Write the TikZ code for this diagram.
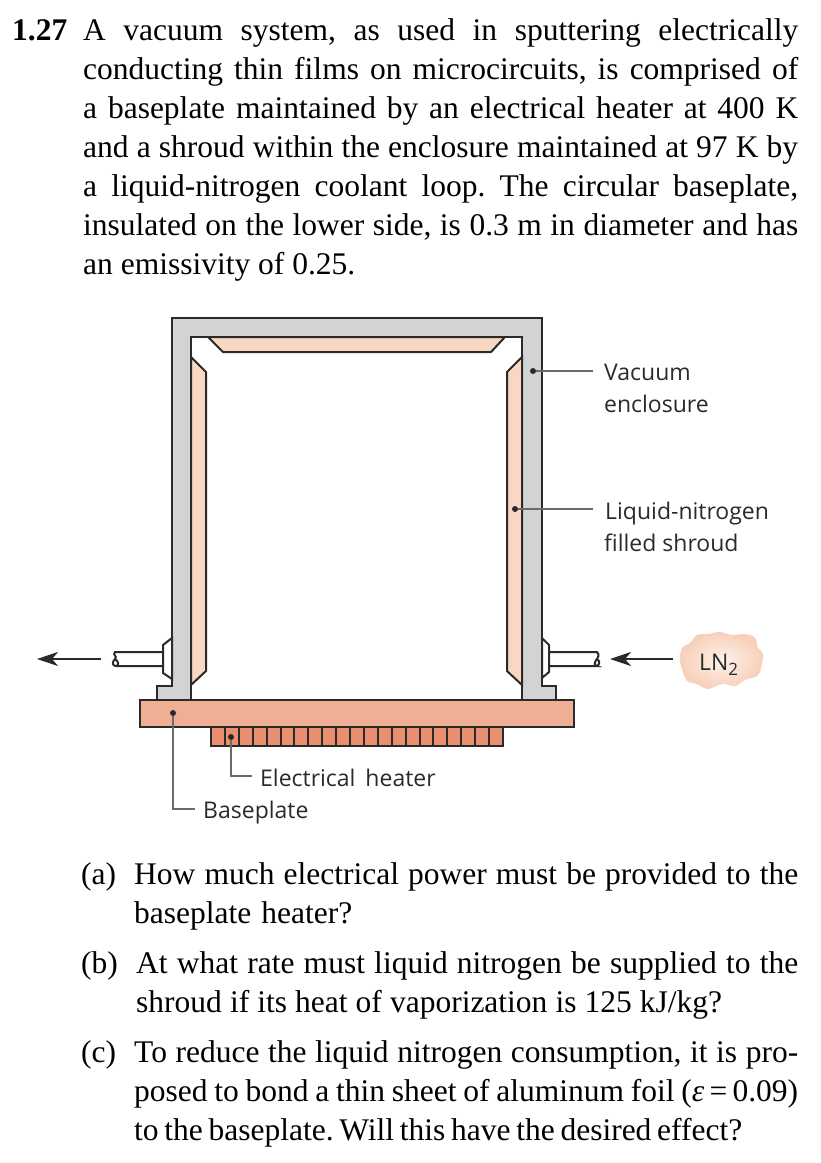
\documentclass[tikz,border=0pt]{standalone}
\usepackage{fontspec}
\setmainfont{Liberation Serif}
\newfontfamily\labelfont{Open Sans}
\usetikzlibrary{arrows.meta}
\definecolor{wallgray}{HTML}{D1D3D4}
\definecolor{shroudpink}{HTML}{F8D7C3}
\definecolor{platepink}{HTML}{F0AF94}
\definecolor{heaterpink}{HTML}{E98F6F}
\definecolor{cloudedge}{HTML}{F8CFB9}
\definecolor{cloudmid}{HTML}{FBE9DE}
\definecolor{inkdark}{HTML}{2A2A2A}
\tikzset{body/.style = {anchor = base west, inner sep = 0, font = \frenchspacing\fontsize{31.5}{38}\selectfont, text = black}}
\tikzset{tag/.style = {anchor = base west, inner sep = 0, font = \labelfont\fontsize{23}{27}\selectfont, text = inkdark}}
\tikzset{part/.style = {draw = inkdark, line width = 2, line join = miter}}
\tikzset{circ/.style = {fill = inkdark, circle, inner sep = 0, minimum size = 6}}
\tikzset{leader/.style = {draw = inkdark!70, line width = 1.1}}
\tikzset{flow/.style = {draw = inkdark, line width = 2.4, -{Stealth[length = 21pt, width = 14pt, inset = 6pt]}}}
\newcommand{\wide}[1]{\makebox[715pt][s]{#1}}
\newcommand{\narrow}[1]{\makebox[664pt][s]{#1}}
\begin{document}
\begin{tikzpicture}[x = 1pt, y = -1pt]
  \useasboundingbox (0, 0) rectangle (821, 1163);

  % problem statement
  \node [body] (number) at (12, 40) {\textbf{1.27}};
  \node [body] (lineA) at (83, 40) {\wide{A vacuum system, as used in sputtering electrically}};
  \node [body] (lineB) at (83, 79) {\wide{conducting thin films on microcircuits, is comprised of}};
  \node [body] (lineC) at (83, 118) {\wide{a baseplate maintained by an electrical heater at 400 K}};
  \node [body] (lineD) at (83, 157.5) {\wide{and a shroud within the enclosure maintained at 97 K by}};
  \node [body] (lineE) at (83, 196.5) {\wide{a liquid-nitrogen coolant loop. The circular baseplate,}};
  \node [body] (lineF) at (83, 235.5) {\wide{insulated on the lower side, is 0.3 m in diameter and has}};
  \node [body] (lineG) at (83, 274.5) {an emissivity of 0.25.};

  % enclosure
  \draw [part, fill = wallgray] (191, 700) -- (191, 337) -- (522, 337) -- (522, 700) -- (556, 700) -- (556, 686)
    -- (542, 686) -- (542, 318) -- (171.5, 318) -- (171.5, 686) -- (157, 686) -- (157, 700) -- cycle;

  % shroud
  \draw [part, fill = shroudpink] (191, 357) -- (206, 372) -- (206, 671) -- (191, 685) -- cycle;
  \draw [part, fill = shroudpink] (522, 357) -- (507, 372) -- (507, 671) -- (522, 685) -- cycle;
  \draw [part, fill = shroudpink] (208, 337) -- (223, 352) -- (491, 352) -- (505, 337) -- cycle;

  % coolant fittings
  \draw [part, fill = white] (172, 638) -- (163, 645) -- (163, 673) -- (172, 679) -- cycle;
  \draw [part, fill = white] (542, 638) -- (549, 645) -- (549, 672) -- (542, 678) -- cycle;
  \draw [part] (163, 652) -- (115, 652) .. controls (112, 655) and (118, 656) .. (115, 659) .. controls (112, 662) and (112, 666) .. (116, 666) -- (163, 666);
  \draw [part] (115, 659) .. controls (119, 661) and (119, 666) .. (116, 666);
  \draw [part] (549, 652) -- (597, 652) .. controls (600, 655) and (598, 657) .. (597, 659) .. controls (594, 662) and (594, 666) .. (597, 666) -- (549, 666);
  \draw [part] (597, 659) .. controls (600, 661) and (600, 664) .. (597, 666);

  % baseplate and heater
  \draw [part, fill = platepink] (139.5, 699.5) rectangle (574, 727);
  \draw [part, fill = heaterpink] (211, 727) rectangle (503, 746);
  \foreach \k in {1, ..., 20}
    \draw [part] ({211 + 13.9 * \k}, 727) -- ({211 + 13.9 * \k}, 746);

  % flow arrows
  \coordinate (outA) at (101, 659);
  \coordinate (outB) at (37, 659);
  \coordinate (inA) at (673, 659);
  \coordinate (inB) at (610, 659);
  \draw [flow] (outA) -- (outB);
  \draw [flow] (inA) -- (inB);

  % nitrogen supply
  \shade [inner color = cloudmid!60!white, outer color = cloudedge] plot [smooth cycle, tension = 0.6] coordinates {(680, 660) (682, 648) (690, 643) (697, 635) (708, 634) (720, 632) (732, 635) (745, 634) (755, 638) (758, 648) (763, 654) (761, 668) (757, 676) (745, 680) (735, 686) (722, 684) (708, 689) (697, 684) (687, 681) (683, 672)};
  \node [tag] (supply) at (699, 670) {LN\raisebox{-5pt}{\fontsize{17}{18}\selectfont 2}};

  % labels
  \node [tag] (vacA) at (604, 380) {Vacuum};
  \node [tag] (vacB) at (604, 412) {enclosure};
  \node [tag] (lnA) at (605, 519) {Liquid-nitrogen};
  \node [tag] (lnB) at (604, 551) {filled shroud};
  \node [tag] (heat) at (260, 786) {Electrical\hspace*{4pt} heater};
  \node [tag] (base) at (203, 818) {Baseplate};

  \node [circ] (vacdot) at (533, 371) {};
  \node [circ] (lndot) at (515, 509) {};
  \node [circ] (basedot) at (173, 713) {};
  \node [circ] (heatdot) at (231, 737) {};
  \coordinate (vacend) at (593, 371);
  \coordinate (lnend) at (593, 509);
  \coordinate (baseend) at (195, 809);
  \coordinate (heatend) at (252, 776);
  \draw [leader] (vacdot) -- (vacend);
  \draw [leader] (lndot) -- (lnend);
  \draw [leader] (basedot) |- (baseend);
  \draw [leader] (heatdot) |- (heatend);

  % questions
  \node [body] (partA) at (81, 884) {(a)};
  \node [body] (partAa) at (134, 884) {\narrow{How much electrical power must be provided to the}};
  \node [body] (partAb) at (134, 923) {\makebox[218pt][s]{baseplate heater?}};
  \node [body] (partB) at (81, 973) {(b)};
  \node [body] (partBa) at (136, 973) {\makebox[662pt][s]{At what rate must liquid nitrogen be supplied to the}};
  \node [body] (partBb) at (136, 1012) {\makebox[586pt][s]{shroud if its heat of vaporization is 125 kJ/kg?}};
  \node [body] (partC) at (81, 1062) {(c)};
  \node [body] (partCa) at (134, 1062) {\narrow{To reduce the liquid nitrogen consumption, it is pro-}};
  \node [body] (partCb) at (134, 1101) {\narrow{posed to bond a thin sheet of aluminum foil (\textit{ε}\,=\,0.09)}};
  \node [body] (partCc) at (134, 1140) {\makebox[608pt][s]{to the baseplate. Will this have the desired effect?}};
\end{tikzpicture}
\end{document}
